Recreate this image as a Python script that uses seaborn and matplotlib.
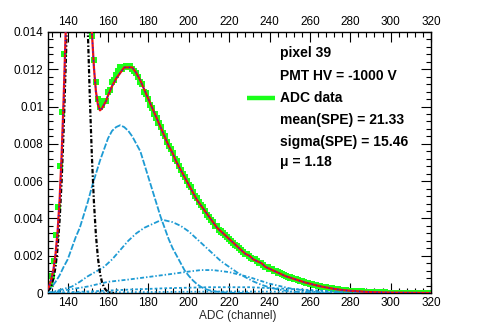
import numpy as np
import pandas as pd
import matplotlib
matplotlib.use("Agg")
import matplotlib.pyplot as plt
from matplotlib.ticker import MultipleLocator, FuncFormatter
import seaborn as sns

# ---------------- data ----------------
adc_channels = list(range(130, 321))
adc_counts = [
    0.0003, 0.0005, 0.0009, 0.0017, 0.0031, 0.0046, 0.0068, 0.0097, 0.0128, 0.0165,   # 130-139
    0.0205, 0.0240, 0.0272, 0.0301, 0.0318, 0.0322, 0.0310, 0.0290, 0.0262, 0.0228,   # 140-149
    0.0196, 0.0163, 0.0138, 0.0125, 0.0113, 0.0104, 0.0100, 0.0101, 0.0103, 0.0103,   # 150-159
    0.0108, 0.0109, 0.0113, 0.0114, 0.0117, 0.0119, 0.0121, 0.0120, 0.0121, 0.0122,   # 160-169
    0.0121, 0.0122, 0.0120, 0.0119, 0.0118, 0.0116, 0.0113, 0.0112, 0.0108, 0.0107,   # 170-179
    0.0104, 0.0101, 0.0099, 0.0096, 0.0094, 0.0091, 0.0089, 0.0086, 0.0084, 0.0081,   # 180-189
    0.0079, 0.0077, 0.0075, 0.0072, 0.0071, 0.0068, 0.0066, 0.0064, 0.0062, 0.0060,   # 190-199
    0.0058, 0.0057, 0.0054, 0.0052, 0.0051, 0.0049, 0.0047, 0.0046, 0.0044, 0.0042,   # 200-209
    0.0041, 0.0039, 0.0038, 0.0036, 0.0036, 0.0034, 0.0033, 0.0032, 0.0031, 0.0030,   # 210-219
    0.0029, 0.0028, 0.0027, 0.0026, 0.0025, 0.0024, 0.0023, 0.0022, 0.0021, 0.0021,   # 220-229
    0.0020, 0.0019, 0.0018, 0.0018, 0.0017, 0.0016, 0.0016, 0.0015, 0.0014, 0.0014,   # 230-239
    0.0013, 0.0013, 0.0012, 0.0012, 0.0011, 0.00105, 0.0010, 0.00096, 0.0009, 0.00088, # 240-249
    0.00083, 0.0008, 0.00076, 0.00073, 0.00069, 0.00066, 0.00062, 0.00059, 0.00055, 0.00053,  # 250-259
    0.0005, 0.00048, 0.00044, 0.00042, 0.00039, 0.00037, 0.00034, 0.00033, 0.0003, 0.00028,   # 260-269
    0.00026, 0.00025, 0.00022, 0.00021, 0.00019, 0.00018, 0.00016, 0.00016, 0.00014, 0.00013, # 270-279
    0.00012, 0.00011, 0.00011, 0.0001, 0.00009, 0.00008, 0.00008, 0.00007, 0.00006, 0.00006,  # 280-289
    0.00005, 0.00005, 0.00004, 0.00004, 0.00004, 0.00003, 0.00003, 0.00003, 0.00002, 0.00002, # 290-299
    0.00002, 0.00002, 0.00002, 0.00001, 0.00001, 0.00001, 0.00001, 0.00001, 0.00001, 0.00001, # 300-309
    0.00001, 0.00001, 0.0, 0.0, 0.0, 0.0, 0.0, 0.0, 0.0, 0.0, 0.0,                      # 310-320
]

fit_x = list(range(130, 161)) + list(range(162, 282, 2)) + [284, 288, 292, 296, 300, 310, 320]
fit_total = [
    0.0002, 0.0004, 0.0008, 0.0013, 0.0021, 0.0033, 0.0050, 0.0074, 0.0104, 0.0140,    # 130-139
    0.0182, 0.0223, 0.0263, 0.0296, 0.0317, 0.0325, 0.0317, 0.0296, 0.0267, 0.0232,    # 140-149
    0.0201, 0.0170, 0.0140, 0.0121, 0.0108, 0.0101, 0.0098, 0.0099, 0.0101, 0.0103,    # 150-159
    0.0106,                                                                             # 160
    0.0111, 0.0115, 0.0118, 0.0121, 0.0121, 0.0121, 0.0118, 0.0114, 0.0109, 0.0104,    # 162-180
    0.0099, 0.0094, 0.0089, 0.0084, 0.0079, 0.0075, 0.0070, 0.0066, 0.0062, 0.0058,    # 182-200
    0.0054, 0.0050, 0.0047, 0.0044, 0.0041, 0.0038, 0.0035, 0.0033, 0.0031, 0.0029,    # 202-220
    0.0027, 0.0025, 0.0023, 0.0021, 0.0020, 0.0018, 0.0017, 0.0016, 0.0014, 0.0013,    # 222-240
    0.0012, 0.0011, 0.0010, 0.0009, 0.00083, 0.00076, 0.00069, 0.00062, 0.00055, 0.0005, # 242-260
    0.00044, 0.00039, 0.00034, 0.0003, 0.00026, 0.00022, 0.00019, 0.00016, 0.00014, 0.00012, # 262-280
    0.00009, 0.00006, 0.00004, 0.00003, 0.00002, 0.00001, 0.0,                          # 284-320
]

ped_x = list(range(130, 164))
pedestal = [
    0.0001, 0.00021, 0.00042, 0.00079, 0.00142, 0.00241, 0.00391, 0.0060, 0.00876, 0.01213,
    0.01595, 0.0199, 0.02357, 0.0265, 0.02828, 0.02865, 0.02755, 0.02516, 0.0218, 0.01793,
    0.0140, 0.01038, 0.0073, 0.00488, 0.00309, 0.00186, 0.00106, 0.00058, 0.0003, 0.00015,
    0.00007, 0.00003, 0.00001, 0.0,
]

pe1_x = list(range(130, 232, 2))
pe1 = [
    0.00005, 0.0003, 0.0006, 0.00095, 0.0014, 0.0018, 0.0024, 0.0030, 0.0035, 0.0042,
    0.0049, 0.0057, 0.0064, 0.0071, 0.0077, 0.0083, 0.0087, 0.0089, 0.0090, 0.0089,
    0.0087, 0.0084, 0.0080, 0.0076, 0.0069, 0.0062, 0.0055, 0.0048, 0.0041, 0.0035,
    0.0029, 0.0024, 0.0020, 0.0016, 0.0012, 0.00092, 0.00068, 0.00048, 0.00033, 0.00022,
    0.00015, 0.0001, 0.00007, 0.00005, 0.00003, 0.00002, 0.00001, 0.00001, 0.0, 0.0, 0.0,
]

pe2_x = [130, 134, 138, 142, 146, 150, 154, 158, 162, 166, 170, 174, 178, 182, 186, 188,
         192, 196, 200, 204, 208, 212, 216, 220, 224, 228, 232, 236, 240, 244, 248, 252,
         256, 260, 270, 280]
pe2 = [0.0, 0.0001, 0.00022, 0.00034, 0.0006, 0.0009, 0.00115, 0.0014, 0.0018, 0.0023,
       0.0028, 0.0032, 0.0035, 0.0037, 0.0039, 0.0039, 0.0038, 0.0036, 0.0033, 0.0029,
       0.0025, 0.0021, 0.0017, 0.0014, 0.0011, 0.00085, 0.00062, 0.00044, 0.0003, 0.0002,
       0.00012, 0.00007, 0.00004, 0.00002, 0.0, 0.0]

pe3_x = [130, 140, 150, 156, 160, 170, 180, 190, 200, 206, 212, 220, 230, 240, 250, 260,
         270, 280, 300]
pe3 = [0.0, 0.00017, 0.00035, 0.0005, 0.0006, 0.00072, 0.00086, 0.0010, 0.00115, 0.00123,
       0.00123, 0.00112, 0.00085, 0.0005, 0.00025, 0.0001, 0.00004, 0.00001, 0.0]

pe4_x = [130, 150, 170, 190, 210, 230, 250, 270, 290, 310, 320]
pe4 = [0.0, 0.00008, 0.00018, 0.00026, 0.00031, 0.00031, 0.00022, 0.0001, 0.00003,
       0.00001, 0.0]

pe5_x = [130, 160, 190, 220, 250, 280, 310, 320]
pe5 = [0.0, 0.00003, 0.00006, 0.00008, 0.00007, 0.00004, 0.00001, 0.0]

x_ticks = [140, 160, 180, 200, 220, 240, 260, 280, 300, 320]
y_ticks = [0, 0.002, 0.004, 0.006, 0.008, 0.010, 0.012, 0.014]
info_lines = ["pixel 39", "PMT HV = -1000 V", "ADC data",
              "mean(SPE) = 21.33", "sigma(SPE) = 15.46", "\u03bc = 1.18"]

# ---------------- figure ----------------
sns.set_style("ticks")
plt.rcParams['font.family'] = ['Liberation Sans', 'DejaVu Sans']
plt.rcParams['axes.linewidth'] = 1.0

W, H = 480, 327
fig = plt.figure(figsize=(W / 100, H / 100), dpi=100)
L, R, T, B = 47.5, 431, 32, 293
ax = fig.add_axes([L / W, 1 - B / H, (R - L) / W, (B - T) / H])

cyan = '#1e9bd4'
green = '#1aff1a'

df = pd.DataFrame({"adc": adc_channels, "counts": adc_counts})
sns.scatterplot(data=df, x="adc", y="counts", ax=ax, marker='s', s=19,
                color=green, edgecolor='none', linewidth=0, zorder=2, legend=False)

def curve(xs, ys, **kw):
    sns.lineplot(x=xs, y=ys, ax=ax, sort=False, estimator=None, legend=False, **kw)

curve(pe5_x, pe5, color=cyan, lw=1.3, linestyle=(0, (1, 1.2)), zorder=3)
curve(pe4_x, pe4, color=cyan, lw=1.3, linestyle=(0, (1.5, 1.2)), zorder=3)
curve(pe3_x, pe3, color=cyan, lw=1.3, linestyle=(0, (2.2, 1.1, 0.8, 1.1)), zorder=3)
curve(pe2_x, pe2, color=cyan, lw=1.3, linestyle=(0, (3, 1.1, 0.8, 1.1)), zorder=3)
curve(pe1_x, pe1, color=cyan, lw=1.3, linestyle=(0, (3.5, 1.0)), zorder=3)
curve(ped_x, pedestal, color='black', lw=1.6, linestyle=(0, (2, 0.9, 0.7, 0.9)), zorder=4)
curve(fit_x, fit_total, color='#ee1111', lw=1.6, zorder=5)
curve(fit_x, fit_total, color='#1a1aff', lw=0.9, linestyle=(0, (1, 2.5)), zorder=6)

ax.set_xlim(130, 320)
ax.set_ylim(0, 0.014)
ax.set_xticks(x_ticks)
ax.set_yticks(y_ticks)
ax.xaxis.set_minor_locator(MultipleLocator(4))
ax.yaxis.set_minor_locator(MultipleLocator(0.0004))
ax.yaxis.set_major_formatter(FuncFormatter(lambda v, p: '0' if abs(v) < 1e-12 else f'{v:g}'))
ax.tick_params(which='both', direction='in', top=True, right=True, labeltop=True,
               labelright=False, colors='black', labelsize=8.5, width=0.8)
ax.tick_params(which='major', length=7, pad=3)
ax.tick_params(which='minor', length=3.5)
ax.set_xlabel("")
ax.set_ylabel("")
for s in ax.spines.values():
    s.set_color('black')
    s.set_linewidth(1.0)

fig.text(238 / W, 1 - 316 / H, "ADC (channel)", ha='center', va='center', fontsize=8.5)

ys = [53, 76, 98, 120, 142, 162]
for t, yy in zip(info_lines, ys):
    fig.text(280 / W, 1 - yy / H, t, ha='left', va='center', fontsize=10,
             fontweight='bold', color='black')
fig.add_artist(plt.Line2D([247 / W, 275 / W], [1 - 98 / H, 1 - 98 / H], color=green,
                          lw=3.2, solid_capstyle='butt'))

fig.savefig("out.png", dpi=100, facecolor='white')
